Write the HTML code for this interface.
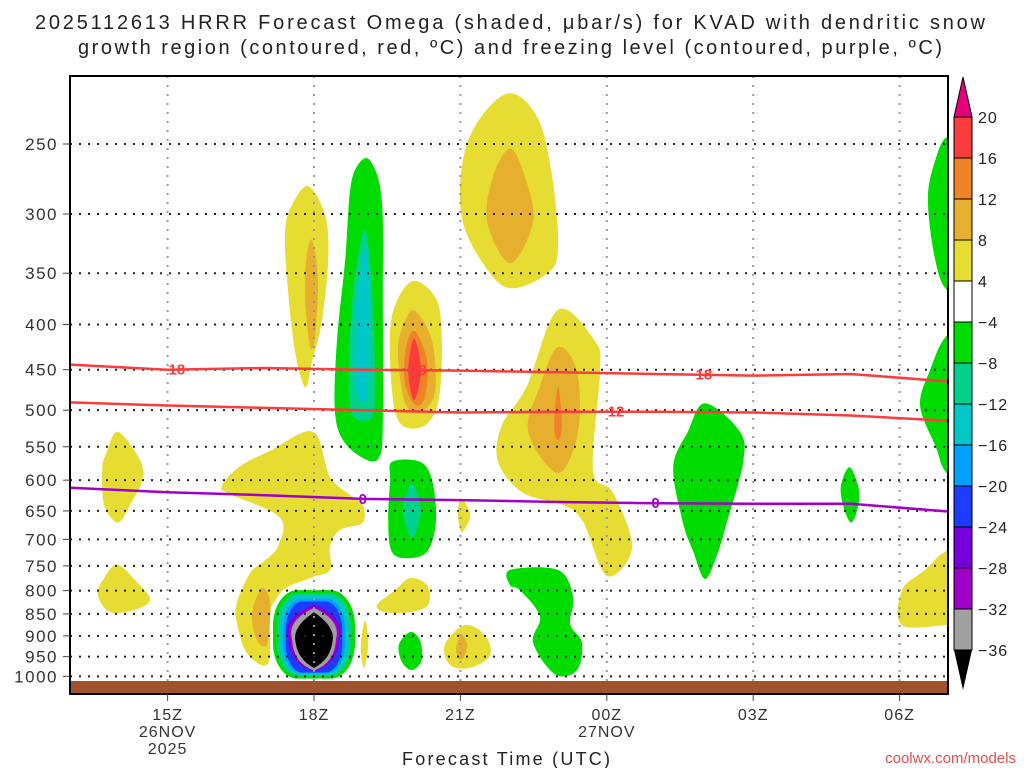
<!DOCTYPE html>
<html><head><meta charset="utf-8"><style>
html,body{margin:0;padding:0;background:#fff;}
svg{display:block;font-family:"Liberation Sans",sans-serif;}
</style></head><body>
<svg id="chart" width="1024" height="768" viewBox="0 0 1024 768">
<text x="35" y="29" textLength="950" lengthAdjust="spacing" font-size="20" fill="#222">2025112613 HRRR Forecast Omega (shaded, μbar/s) for KVAD with dendritic snow</text>
<text x="78" y="54" textLength="864" lengthAdjust="spacing" font-size="20" fill="#222">growth region (contoured, red, ºC) and freezing level (contoured, purple, ºC)</text>
<defs><clipPath id="pc"><rect x="70" y="76" width="878" height="618"/></clipPath></defs>
<g id="fills" clip-path="url(#pc)"></g>
<g id="grid"></g>
<g id="lines" clip-path="url(#pc)"></g>
<rect x="70" y="681" width="878" height="13" fill="#a0522d"/>
<rect x="70" y="76" width="878" height="618" fill="none" stroke="#000" stroke-width="2"/>
<g id="axes"></g>
<g id="cbar"></g>
<text x="402" y="765" textLength="208" lengthAdjust="spacing" font-size="18" fill="#222">Forecast Time (UTC)</text>
<text x="1016" y="763" text-anchor="end" font-size="15" fill="#e05050">coolwx.com/models</text>
</svg>
<script>
const yTicks=[250,300,350,400,450,500,550,600,650,700,750,800,850,900,950,1000];
const xTickHours=[2,5,8,11,14,17];
const xTickLabels=["15Z","18Z","21Z","00Z","03Z","06Z"];
const xDateLabels=[["26NOV","2025"],[],[],["27NOV"],[],[]];
const levelColors={y:"#e6dc32",g4:"#e6af2d",o:"#f08228",r:"#fa3c3c",gr:"#00dc00",tl:"#00d28c",cy:"#00c8c8",lb:"#00a0ff",bl:"#1e3cff",pu:"#7800dc",mg:"#a000c8",gy:"#a0a0a0",bk:"#000"};
const cbLevels=["20","16","12","8","4","−4","−8","−12","−16","−20","−24","−28","−32","−36"];
const cbColors=["#fa3c3c","#f08228","#e6af2d","#e6dc32","#ffffff","#00dc00","#00d28c","#00c8c8","#00a0ff","#1e3cff","#7800dc","#a000c8","#a0a0a0"];
const regions=[
["y",[[0.98,529],[1.43,569],[1.48,600],[1.23,640],[0.98,670],[0.70,640],[0.66,584],[0.74,560]]],
["y",[[0.98,748],[1.43,789],[1.64,820],[1.33,841],[0.82,846],[0.57,809],[0.70,774]]],
["y",[[4.88,279],[5.23,301],[5.29,338],[5.16,397],[4.96,441],[4.82,471],[4.61,429],[4.45,357],[4.41,313],[4.55,293]]],
["g4",[[4.96,321],[5.08,357],[5.02,413],[4.92,424],[4.82,376],[4.84,338]]],
["y",[[4.98,529],[5.33,595],[5.80,627],[6.0,640],[6.0,670],[5.53,683],[5.33,713],[5.33,758],[4.98,772],[4.45,793],[4.24,815],[4.10,850],[4.06,967],[3.63,942],[3.42,870],[3.42,826],[3.69,764],[3.95,743],[4.26,713],[4.30,661],[3.28,622],[3.11,609],[3.48,579],[4.10,556]]],
["g4",[[3.93,795],[4.10,826],[4.04,918],[3.83,910],[3.73,850]]],
["y",[[7.07,357],[7.52,376],[7.62,418],[7.58,477],[7.42,510],[7.13,524],[6.76,517],[6.60,477],[6.56,407],[6.72,374]]],
["g4",[[7.07,386],[7.42,418],[7.48,477],[7.17,503],[6.86,490],[6.72,429],[6.86,397]]],
["o",[[7.07,407],[7.32,441],[7.27,484],[7.07,493],[6.86,465],[6.89,424]]],
["r",[[7.05,415],[7.19,451],[7.05,487],[6.93,451]]],
["y",[[6.05,864],[6.11,921],[6.02,978],[5.96,921]]],
["y",[[6.97,774],[7.32,789],[7.34,830],[6.97,846],[6.45,846],[6.29,830],[6.66,799]]],
["y",[[8.01,629],[8.20,657],[8.03,687],[7.95,657]]],
["y",[[8.09,875],[8.50,898],[8.61,946],[8.20,978],[7.79,971],[7.68,921]]],
["g4",[[8.01,898],[8.14,921],[8.03,958],[7.91,934]]],
["y",[[9.02,219],[9.59,234],[9.88,272],[10.0,322],[9.84,348],[9.02,364],[8.46,341],[8.03,303],[8.05,261],[8.40,234]]],
["g4",[[9.02,253],[9.32,272],[9.49,306],[9.02,341],[8.55,306],[8.67,272]]],
["y",[[10.0,385],[10.76,418],[10.86,452],[10.72,585],[11.13,620],[11.52,715],[11.0,770],[10.51,668],[10.10,640],[9.28,620],[8.77,572],[8.85,520],[9.36,470]]],
["g4",[[10.0,424],[10.39,452],[10.41,529],[10.0,589],[9.39,529],[9.63,470]]],
["o",[[10.0,470],[10.08,520],[10.0,541],[9.92,520]]],
["y",[[18.6,720],[18.6,875],[17.99,875],[17.05,875],[17.05,799],[17.52,758],[17.99,720]]],
["gr",[[6.15,261],[6.39,289],[6.41,376],[6.41,517],[6.35,563],[6.11,570],[5.64,545],[5.43,503],[5.47,418],[5.64,338],[5.74,282],[5.90,264]]],
["tl",[[6.05,313],[6.19,366],[6.25,490],[6.02,514],[5.74,495],[5.74,407],[5.86,347]]],
["cy",[[6.05,326],[6.15,376],[6.11,471],[5.98,490],[5.84,465],[5.84,397],[5.94,352]]],
["gr",[[6.60,572],[7.17,572],[7.42,600],[7.50,666],[7.34,720],[6.97,735],[6.60,724],[6.52,666],[6.56,600]]],
["tl",[[7.01,605],[7.19,649],[7.01,698],[6.82,649]]],
["gr",[[6.97,891],[7.17,910],[7.21,958],[7.01,984],[6.80,963],[6.74,921]]],
["gr",[[9.02,758],[10.0,758],[10.31,813],[10.25,873],[10.49,916],[10.39,984],[9.94,995],[9.49,916],[9.63,855],[9.22,799],[9.02,789]]],
["gr",[[13.01,491],[13.73,529],[13.79,574],[13.46,670],[13.26,729],[13.01,776],[12.77,722],[12.56,670],[12.36,580],[12.66,529]]],
["gr",[[15.98,580],[16.17,616],[16.13,649],[16.0,670],[15.84,640],[15.80,608]]],
["gr",[[18.6,245],[18.6,366],[17.99,366],[17.73,338],[17.58,289],[17.73,261],[17.99,245]]],
["gr",[[18.6,411],[18.6,590],[17.99,590],[17.73,548],[17.42,494],[17.62,451],[17.99,411]]]
];
const coreCenterHour=5.0;
const coreLevels=["gr","tl","cy","lb","bl","pu","mg","gy","bk"];
const coreHalfWidth=[0.84,0.76,0.70,0.64,0.58,0.53,0.49,0.45,0.41];
const coreTop=[799,805,811,817,823,829,834,837,843];
const coreBottom=[1006,1000,996,992,990,988,986,985,982];
const lineHours=[0,2,4,6,8,10,12,14,16,18];
const minus18=[444,450,448,450,451,453,455,457,455,464];
const minus12=[490,494,497,500,503,502,502,503,507,514];
const freezing=[612,619,624,630,632,635,637,638,638,651];
const lineLabels=[["−18",2.1,"#fa3c3c",minus18],["−18",7.05,"#fa3c3c",minus18],["−18",12.9,"#fa3c3c",minus18],["−12",11.1,"#fa3c3c",minus12],["0",6.0,"#a000c8",freezing],["0",12.0,"#a000c8",freezing]];

const NS="http://www.w3.org/2000/svg";
const X=h=>70+h*48.8;
const Y=p=>144+384*Math.log(p/250);
function mk(tag,attrs,parent){const e=document.createElementNS(NS,tag);for(const k in attrs)e.setAttribute(k,attrs[k]);parent.appendChild(e);return e;}
function smooth(pts){const P=pts.map(q=>[X(q[0]),Y(q[1])]);const n=P.length;let d="M"+P[0][0].toFixed(1)+","+P[0][1].toFixed(1);
for(let i=0;i<n;i++){const p0=P[(i-1+n)%n],p1=P[i],p2=P[(i+1)%n],p3=P[(i+2)%n];
const c1=[p1[0]+(p2[0]-p0[0])/6,p1[1]+(p2[1]-p0[1])/6],c2=[p2[0]-(p3[0]-p1[0])/6,p2[1]-(p3[1]-p1[1])/6];
d+="C"+c1.map(v=>v.toFixed(1))+" "+c2.map(v=>v.toFixed(1))+" "+p2.map(v=>v.toFixed(1));}
return d+"Z";}
const fills=document.getElementById('fills');
regions.forEach((r,i)=>{const e=mk('path',{d:smooth(r[1]),fill:levelColors[r[0]]},fills);

});
coreLevels.forEach((lv,i)=>{const cx=X(coreCenterHour),w=coreHalfWidth[i]*48.8,t=Y(coreTop[i]),b=Y(coreBottom[i]);let e;
if(lv==="bk"){const m=(t+b)/2;e=mk('path',{d:`M${cx},${t}Q${cx+w*1.1},${t+(b-t)*0.25} ${cx+w},${m}Q${cx+w*0.9},${b-(b-t)*0.15} ${cx},${b}Q${cx-w*0.9},${b-(b-t)*0.15} ${cx-w},${m}Q${cx-w*1.1},${t+(b-t)*0.25} ${cx},${t}Z`,fill:levelColors[lv],stroke:"#a0a0a0","stroke-width":2.5},fills);}
else if(lv==="gy"||lv==="mg"||lv==="pu"){const m=(t+b)/2;e=mk('path',{d:`M${cx},${t}Q${cx+w*1.25},${t+(b-t)*0.2} ${cx+w},${m}Q${cx+w*0.95},${b-(b-t)*0.12} ${cx},${b}Q${cx-w*0.95},${b-(b-t)*0.12} ${cx-w},${m}Q${cx-w*1.25},${t+(b-t)*0.2} ${cx},${t}Z`,fill:levelColors[lv]},fills);}
else{e=mk('rect',{x:cx-w,y:t,width:2*w,height:b-t,rx:w*0.6,ry:(b-t)*0.4,fill:levelColors[lv]},fills);}

});
const grid=document.getElementById('grid'),axes=document.getElementById('axes');
yTicks.forEach(p=>{const y=Y(p);const g=mk('line',{x1:70,x2:948,y1:y,y2:y,stroke:"#222","stroke-width":2,"stroke-dasharray":"2 7"},grid);


mk('line',{x1:63,x2:70,y1:y,y2:y,stroke:"#444","stroke-width":1},axes);
const t=mk('text',{x:58,y:y+6,"text-anchor":"end","font-size":17,"letter-spacing":"1.5",fill:"#333"},axes);t.textContent=p;

});
xTickHours.forEach((h,i)=>{const x=X(h);const g=mk('line',{x1:x,x2:x,y1:76,y2:694,stroke:"#999","stroke-width":2,"stroke-dasharray":"2 7"},grid);


mk('line',{x1:x,x2:x,y1:694,y2:701,stroke:"#444","stroke-width":1},axes);
const lines=[xTickLabels[i]].concat(xDateLabels[i]);
lines.forEach((s,j)=>{const t=mk('text',{x:x,y:720+j*17,"text-anchor":"middle","font-size":16,"letter-spacing":"1",fill:"#333"},axes);t.textContent=s;

});});
const L=document.getElementById('lines');
function lpath(arr){return lineHours.map((h,i)=>(i?"L":"M")+X(h).toFixed(1)+","+Y(arr[i]).toFixed(1)).join("");}
[[minus18,"#fa3c3c","contour-minus18"],[minus12,"#fa3c3c","contour-minus12"],[freezing,"#a000c8","freezing-level"]].forEach(a=>{
const e=mk('path',{d:lpath(a[0]),fill:"none",stroke:a[1],"stroke-width":2.5},L);

});
function interp(arr,h){for(let i=0;i<lineHours.length-1;i++){if(h<=lineHours[i+1]){const f=(h-lineHours[i])/(lineHours[i+1]-lineHours[i]);return arr[i]+f*(arr[i+1]-arr[i]);}}return arr[arr.length-1];}
lineLabels.forEach(l=>{const x=X(l[1]),y=Y(interp(l[3],l[1]));
const t=mk('text',{x:x,y:y+5,"text-anchor":"middle","font-size":15,"font-weight":"bold",fill:l[2]},L);t.textContent=l[0];

});
const cb=document.getElementById('cbar');const cbx=954,cbw=18,cbt=117,cbs=41;
const tt=mk('path',{d:`M${cbx},${cbt}L${cbx+cbw/2},77L${cbx+cbw},${cbt}Z`,fill:"#e6007e",stroke:"#000"},cb);


cbColors.forEach((c,i)=>{const r=mk('rect',{x:cbx,y:cbt+i*cbs,width:cbw,height:cbs,fill:c,stroke:"#000","stroke-width":1},cb);

});
const bt=cbt+cbColors.length*cbs;
const ta=mk('path',{d:`M${cbx},${bt}L${cbx+cbw/2},${bt+40}L${cbx+cbw},${bt}Z`,fill:"#000"},cb);


cbLevels.forEach((s,i)=>{const t=mk('text',{x:978,y:cbt+i*cbs+6,"font-size":16,"letter-spacing":"1",fill:"#222"},cb);t.textContent=s;

});
</script>
</body></html>
